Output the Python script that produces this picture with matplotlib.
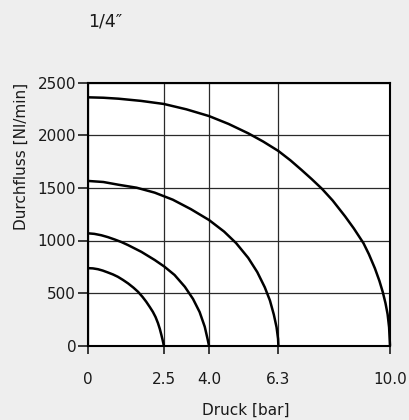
import matplotlib
matplotlib.use("Agg")
import matplotlib.pyplot as plt

# Durchfluss-Kennlinien (Druck in bar, Fluss in Nl/min)
druck_25 = [0, 0.15, 0.32, 0.48, 0.65, 0.82, 0.98, 1.15, 1.32, 1.5, 1.65, 1.8,
            1.92, 2.04, 2.14, 2.23, 2.31, 2.37, 2.42, 2.46, 2.49, 2.5]
fluss_25 = [737, 735, 727, 714, 696, 677, 655, 625, 592, 551, 512, 463,
            418, 367, 322, 272, 214, 160, 105, 58, 20, 0]

druck_40 = [0, 0.2, 0.43, 0.65, 0.87, 1.1, 1.32, 1.76, 2.2, 2.52, 2.86, 3.2,
            3.47, 3.69, 3.86, 3.96, 4.0]
fluss_40 = [1068, 1063, 1050, 1032, 1010, 985, 956, 892, 815, 752, 672, 560,
            445, 320, 180, 55, 0]

druck_63 = [0, 0.5, 1.0, 1.6, 2.2, 2.8, 3.4, 4.0, 4.5, 4.9, 5.3, 5.6, 5.85,
            6.02, 6.15, 6.24, 6.29, 6.3]
fluss_63 = [1566, 1556, 1530, 1502, 1455, 1388, 1298, 1195, 1085, 975, 835, 700, 555,
            430, 295, 175, 65, 0]

druck_100 = [0, 0.5, 1.0, 1.75, 2.5, 3.25, 4.0, 4.65, 5.3, 5.8, 6.3, 6.7, 7.07,
             7.4, 7.75, 8.1, 8.51, 8.8, 9.12, 9.3, 9.5, 9.65, 9.76, 9.85, 9.92,
             9.97, 10.0]
fluss_100 = [2361, 2357, 2348, 2327, 2298, 2247, 2183, 2108, 2019, 1940, 1851, 1762, 1670,
             1585, 1490, 1380, 1230, 1115, 975, 870, 735, 615, 510, 405, 300,
             175, 0]

x_ticks = [0, 2.5, 4.0, 6.3, 10.0]
x_tick_labels = ["0", "2.5", "4.0", "6.3", "10.0"]
y_ticks = [0, 500, 1000, 1500, 2000, 2500]

bg = "#eeeeee"
fig = plt.figure(figsize=(4.09, 4.20), dpi=100, facecolor=bg)
ax = fig.add_axes([88.3 / 409, 74.3 / 420, 301.7 / 409, 263 / 420])
ax.set_facecolor("white")

for xs, ys in [(druck_25, fluss_25), (druck_40, fluss_40),
               (druck_63, fluss_63), (druck_100, fluss_100)]:
    ax.plot(xs, ys, color="black", lw=1.8, solid_capstyle="butt",
            solid_joinstyle="round", zorder=3, clip_on=False)

ax.set_xlim(0, 10)
ax.set_ylim(0, 2500)
ax.set_xticks(x_ticks)
ax.set_xticklabels(x_tick_labels)
ax.set_yticks(y_ticks)
ax.grid(True, color="#2a2a2a", lw=0.9, zorder=1)
ax.set_axisbelow(True)

for s in ax.spines.values():
    s.set_linewidth(1.5)
    s.set_color("black")
    s.set_zorder(4)

ax.tick_params(axis="y", direction="out", length=7.2, width=1.2, pad=1.5,
               labelsize=11, colors="#1a1a1a")
ax.tick_params(axis="x", direction="out", length=6, width=1.2, pad=13,
               labelsize=11, colors="#1a1a1a")

fig.text(88 / 409, 1 - 21.5 / 420, "1/4\u2033", fontsize=12.5,
         ha="left", va="center", color="#1a1a1a")
fig.text(246 / 409, 1 - 410 / 420, "Druck [bar]", fontsize=11,
         ha="center", va="center", color="#1a1a1a")
fig.text(21 / 409, 1 - 83 / 420, "Durchfluss [Nl/min]", fontsize=11,
         rotation=90, ha="center", va="top", color="#1a1a1a")

fig.savefig("out.png", dpi=100, facecolor=bg)
